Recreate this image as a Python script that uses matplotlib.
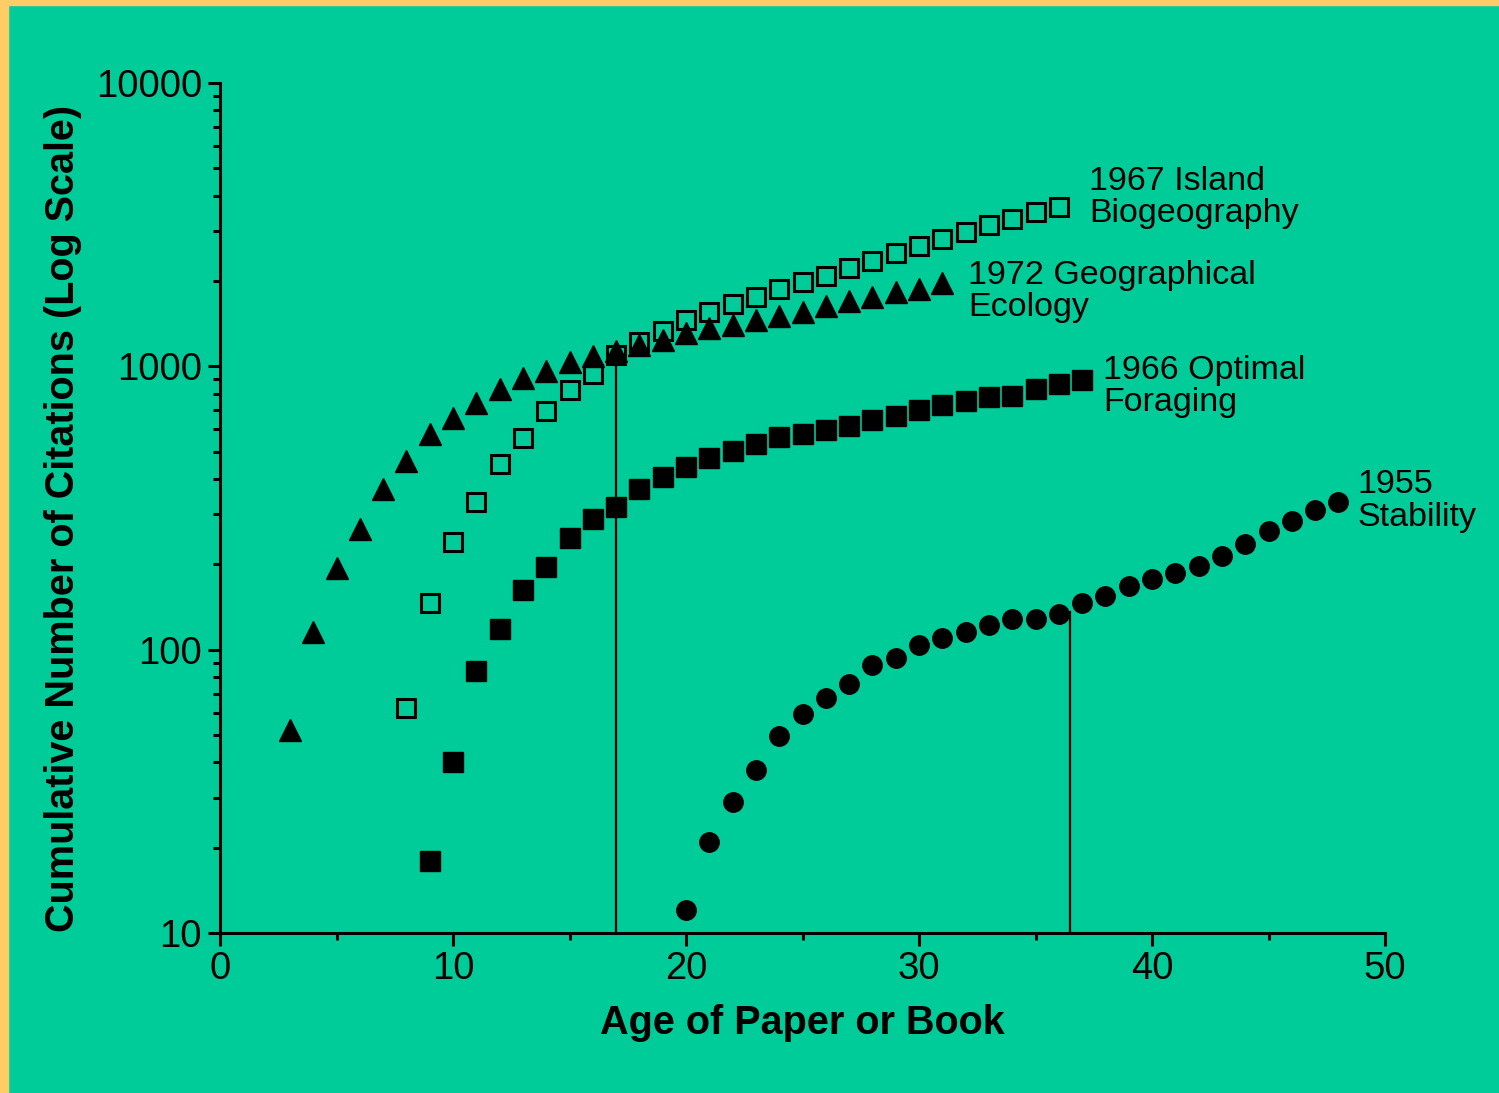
import matplotlib
matplotlib.use('Agg')
import matplotlib.pyplot as plt
from matplotlib.patches import Rectangle
from matplotlib.ticker import LogLocator, FixedLocator, NullFormatter

plt.rcParams['font.family'] = ['Liberation Sans', 'DejaVu Sans']

bg = '#00CC99'
border = '#FFCC66'

# 1972 Geographical Ecology (filled triangles)
geo_age = list(range(3, 32))
geo_cit = [52, 115, 194, 267, 369, 464, 577, 658, 743, 832, 910, 963, 1037, 1089, 1133,
           1190, 1240, 1313, 1367, 1400, 1459, 1507, 1556, 1634, 1702, 1758, 1832, 1876, 1969]

# 1967 Island Biogeography (open squares)
isl_age = list(range(8, 37))
isl_cit = [62, 146, 240, 332, 452, 558, 696, 826, 940, 1097, 1219, 1333, 1459, 1556, 1661,
           1758, 1876, 1986, 2084, 2224, 2355, 2514, 2660, 2816, 2980, 3155, 3313, 3507, 3654]

# 1966 Optimal Foraging (filled squares)
opt_age = list(range(9, 38))
opt_cit = [17.9, 40.2, 84, 118, 163, 196, 248, 289, 319, 369, 407, 442, 475, 503, 532,
           563, 577, 596, 616, 647, 668, 702, 731, 755, 780, 787, 832, 866, 895]

# 1955 Stability (filled circles)
stab_age = list(range(20, 49))
stab_cit = [12.1, 20.9, 29, 37.6, 49.6, 59.3, 67.6, 75.7, 88.3, 93.5, 104, 110, 115, 122,
            128, 128, 134, 146, 155, 168, 178, 187, 198, 214, 236, 262, 285, 311, 332]

# vertical reference lines (age, top value)
vline_x = [17, 36.5]
vline_top = [1100, 136]

labels = ['1967 Island\nBiogeography', '1972 Geographical\nEcology',
          '1966 Optimal\nForaging', '1955\nStability']
label_x = [37.3, 32.1, 37.9, 48.8]
label_y = [3950, 1840, 850, 335]

fig = plt.figure(figsize=(14.99, 10.93), dpi=100)
fig.patch.set_facecolor(bg)
# orange frame on top and left edges
fig.patches.append(Rectangle((0, 1 - 5 / 1093), 1, 5 / 1093, transform=fig.transFigure,
                             color=border, zorder=0))
fig.patches.append(Rectangle((0, 0), 8 / 1499, 1, transform=fig.transFigure,
                             color=border, zorder=0))

ax = fig.add_axes([220 / 1499, 1 - 933 / 1093, 1165 / 1499, 850 / 1093])
ax.set_facecolor(bg)

for x, top in zip(vline_x, vline_top):
    ax.plot([x, x], [10, top], color='black', lw=1.6, zorder=1)

ax.plot(geo_age, geo_cit, linestyle='none', marker='^', ms=15.5, color='black', zorder=3)
ax.plot(isl_age, isl_cit, linestyle='none', marker='s', ms=13.5, mfc=bg, mec='black',
        mew=2.2, zorder=2)
ax.plot(opt_age, opt_cit, linestyle='none', marker='s', ms=14, color='black', zorder=3)
ax.plot(stab_age, stab_cit, linestyle='none', marker='o', ms=14, color='black', zorder=3)

for txt, x, y in zip(labels, label_x, label_y):
    ax.text(x, y, txt, fontsize=24.5, va='center', ha='left', linespacing=1.05)

ax.set_yscale('log')
ax.set_xlim(0, 50)
ax.set_ylim(10, 10000)

ax.xaxis.set_major_locator(FixedLocator([0, 10, 20, 30, 40, 50]))
ax.xaxis.set_minor_locator(FixedLocator([5, 15, 25, 35, 45]))
ax.yaxis.set_major_locator(FixedLocator([10, 100, 1000, 10000]))
ax.yaxis.set_minor_locator(LogLocator(base=10, subs=range(2, 10)))
ax.yaxis.set_minor_formatter(NullFormatter())
ax.set_yticklabels(['10', '100', '1000', '10000'])

for side in ['top', 'right']:
    ax.spines[side].set_visible(False)
for side in ['left', 'bottom']:
    ax.spines[side].set_linewidth(2.2)

ax.tick_params(which='major', direction='out', length=9, width=2.2, labelsize=27.5, pad=4)
ax.tick_params(which='minor', direction='out', length=5, width=2.2)

ax.set_xlabel('Age of Paper or Book', fontsize=28.5, fontweight='bold', labelpad=12)
ax.set_ylabel('Cumulative Number of Citations (Log Scale)', fontsize=28.5, fontweight='bold',
              labelpad=10)
ax.yaxis.label.set_y(0.488)

fig.savefig('out.png', dpi=100, facecolor=bg)
